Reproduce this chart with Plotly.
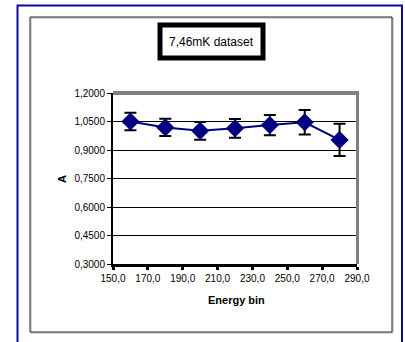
import plotly.graph_objects as go

# Energy bins and fitted amplitude A with its uncertainty
energy_bin = [160, 180, 200, 220, 240, 260, 280]
amplitude = [1.050, 1.019, 1.001, 1.014, 1.031, 1.046, 0.953]
amp_err = [0.046, 0.045, 0.047, 0.049, 0.053, 0.064, 0.085]

x_ticks = [150, 170, 190, 210, 230, 250, 270, 290]
y_ticks = [0.30, 0.45, 0.60, 0.75, 0.90, 1.05, 1.20]

W, H = 405, 342
L, R, T, B = 113, 357, 93, 264  # plot area in pixels


def px(x):
    return (x - L) / (R - L)


def py(y):
    return (B - y) / (B - T)


fig = go.Figure()
fig.add_trace(go.Scatter(
    x=energy_bin, y=amplitude,
    mode="lines+markers",
    line=dict(color="#000080", width=2),
    marker=dict(symbol="diamond", size=14, color="#000080"),
    error_y=dict(type="data", array=amp_err, visible=True,
                 color="black", thickness=2, width=6),
    showlegend=False,
))

font = "Liberation Sans, Arial, sans-serif"

fig.update_layout(
    width=W, height=H,
    margin=dict(l=L, r=W - R, t=T, b=H - B),
    paper_bgcolor="white", plot_bgcolor="white",
    separators=",.",
    font=dict(family=font, size=10, color="black"),
    xaxis=dict(range=[150, 290], tickvals=x_ticks, tickformat=".1f",
               showgrid=False, zeroline=False,
               showline=True, linecolor="black", linewidth=3,
               ticks="outside", ticklen=3, tickwidth=3, tickcolor="black",
               tickfont=dict(size=10)),
    yaxis=dict(range=[0.3, 1.2], tickvals=y_ticks, tickformat=".4f",
               showgrid=True, gridcolor="black", gridwidth=1,
               zeroline=False,
               showline=True, linecolor="black", linewidth=2,
               ticks="outside", ticklen=4, tickwidth=1, tickcolor="black",
               tickfont=dict(size=10)),
    shapes=[
        # outer blue frame
        dict(type="rect", xref="paper", yref="paper",
             x0=px(17.5), x1=px(402), y0=py(350), y1=py(5.5),
             line=dict(color="#0a0a9c", width=2), layer="below"),
        # chart area frame with light shadow
        dict(type="rect", xref="paper", yref="paper",
             x0=px(31), x1=px(393), y0=py(333), y1=py(18),
             line=dict(color="#b0b0b0", width=1), layer="below"),
        dict(type="rect", xref="paper", yref="paper",
             x0=px(30), x1=px(392), y0=py(332), y1=py(17),
             line=dict(color="#222222", width=1), layer="below"),
        # plot-area border on top and right
        dict(type="line", xref="paper", yref="paper",
             x0=px(113), x1=px(359), y0=py(93), y1=py(93),
             line=dict(color="#808080", width=4)),
        dict(type="line", xref="paper", yref="paper",
             x0=px(357.5), x1=px(357.5), y0=py(91), y1=py(264),
             line=dict(color="#808080", width=3)),
        # title box
        dict(type="rect", xref="paper", yref="paper",
             x0=px(160), x1=px(263), y0=py(58), y1=py(25),
             line=dict(color="black", width=5), fillcolor="white"),
    ],
    annotations=[
        dict(text="7,46mK dataset", xref="paper", yref="paper",
             x=px(211.5), y=py(41.5), xanchor="center", yanchor="middle",
             showarrow=False, font=dict(size=12, family=font)),
        dict(text="<b>Energy bin</b>", xref="paper", yref="paper",
             x=px(236), y=py(300), xanchor="center", yanchor="middle",
             showarrow=False, font=dict(size=11, family=font)),
        dict(text="<b>A</b>", xref="paper", yref="paper",
             x=px(62), y=py(179), xanchor="center", yanchor="middle",
             showarrow=False, textangle=-90,
             font=dict(size=11, family=font)),
    ],
)

fig.write_html("out.html")
